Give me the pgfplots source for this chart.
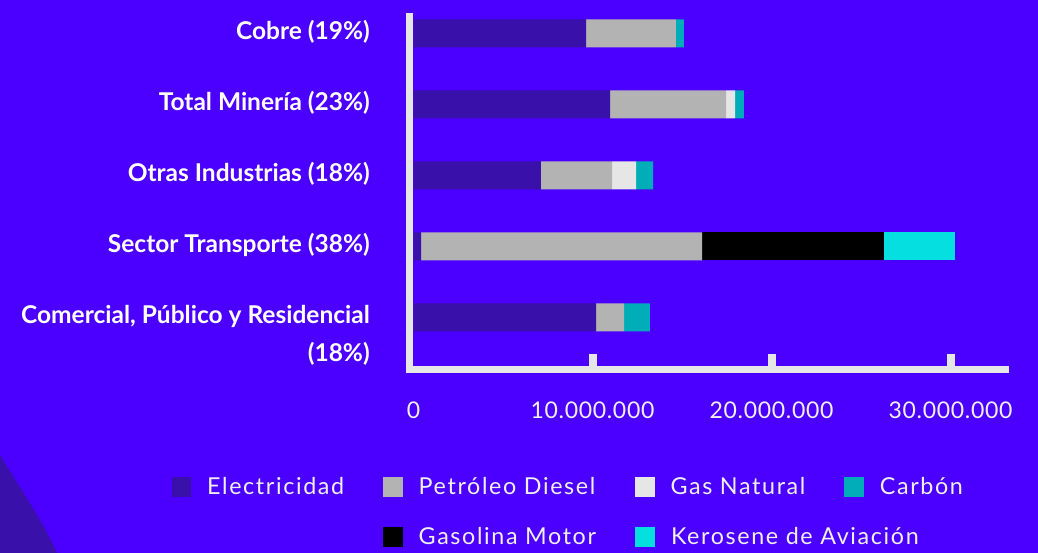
\documentclass[border=0pt]{standalone}
\usepackage{fontspec}
\setmainfont{Lato}
\newfontfamily\spaced[LetterSpace=7]{Lato}
\newfontfamily\tickfont[LetterSpace=3]{Lato}
\usepackage{pgfplots}
\pgfplotsset{compat=1.18}

\definecolor{fondo}{HTML}{4B00FF}
\definecolor{elec}{HTML}{3910A9}
\definecolor{diesel}{HTML}{B3B3B3}
\definecolor{gasnat}{HTML}{E6E6E6}
\definecolor{carbon}{HTML}{00ADB8}
\definecolor{gasolina}{HTML}{000000}
\definecolor{kero}{HTML}{06DFE0}
\definecolor{linea}{HTML}{E6E6E6}
\definecolor{texto}{HTML}{F0F0F0}

\begin{document}
\begin{tikzpicture}
% background and corner decoration
\fill[fondo] (-410pt,-183pt) rectangle (628pt,370pt);
\fill[elec] (-410pt,-85pt) .. controls (-390pt,-118pt) and (-368pt,-150pt) .. (-353pt,-183pt) -- (-410pt,-183pt) -- cycle;
\begin{axis}[
    at={(0pt,0pt)}, anchor=south west,
    scale only axis,
    width=595.5pt, height=353.2pt,
    xbar stacked,
    bar width=28pt,
    xmin=-196000, xmax=33070000,
    ymin=-0.742, ymax=4.232,
    axis x line=bottom, axis y line=left,
    axis line style={draw=linea, line width=7pt, line cap=rect, -},
    every outer x axis line/.append style={-},
    every outer y axis line/.append style={-},
    scaled x ticks=false,
    xtick={10000000,20000000,30000000},
    xticklabels={10.000.000,20.000.000,30.000.000},
    extra x ticks={0},
    extra x tick labels={0},
    extra x tick style={major tick length=0pt},
    tick align=inside,
    major tick length=16pt,
    x tick style={draw=linea, line width=8pt},
    ytick={0,1,2,3,4},
    y tick style={draw=none},
    yticklabels={
      {Comercial, Público y Residencial\llap{\raisebox{-38pt}[0pt][0pt]{(18\%)}}},
      Sector Transporte (38\%),
      Otras Industrias (18\%),
      Total Minería (23\%),
      Cobre (19\%)},
    xticklabel style={font=\tickfont\fontsize{23}{27}\selectfont, text=texto,
      anchor=center, inner sep=0pt, yshift=-40pt},
    yticklabel style={font=\bfseries\fontsize{24.5}{29}\selectfont, text=white,
      anchor=base east, inner sep=0pt, xshift=-40pt, yshift=-6.5pt},
    legend columns=4,
    legend cell align=left,
    legend image code/.code={\fill[#1] (0pt,-9.75pt) rectangle (19.5pt,9.75pt);},
    legend style={
      at={(-0.4002,-0.303)}, anchor=north west,
      draw=none, fill=none, inner sep=0pt, outer sep=0pt,
      row sep=30.5pt,
      font=\spaced\fontsize{23.3}{27}\selectfont, text=texto,
      nodes={inner sep=0pt},
      /tikz/every odd column/.style={column sep=16pt},
      /tikz/every even column/.style={column sep=39pt},
    },
  ]

  % y: 0 Comercial, 1 Transporte, 2 Otras, 3 Mineria, 4 Cobre
  \addplot[fill=elec, draw=none] coordinates {
    (10200000,0) (420000,1) (7120000,2) (10980000,3) (9640000,4)};
  \addlegendentry{Electricidad}

  \addplot[fill=diesel, draw=none] coordinates {
    (1560000,0) (15700000,1) (3970000,2) (6480000,3) (5020000,4)};
  \addlegendentry{Petróleo Diesel}

  \addplot[fill=gasnat, draw=none] coordinates {
    (0,0) (0,1) (1340000,2) (500000,3) (0,4)};
  \addlegendentry{Gas Natural}

  \addplot[fill=carbon, draw=none] coordinates {
    (1450000,0) (0,1) (950000,2) (500000,3) (450000,4)};
  \addlegendentry{Carbón}

  \addlegendimage{empty legend}
  \addlegendentry{\mbox{}}

  \addplot[fill=gasolina, draw=none] coordinates {
    (0,0) (10160000,1) (0,2) (0,3) (0,4)};
  \addlegendentry{Gasolina Motor}

  \addplot[fill=kero, draw=none] coordinates {
    (0,0) (3970000,1) (0,2) (0,3) (0,4)};
  \addlegendentry{\rlap{Kerosene de Aviación}}

\end{axis}
\end{tikzpicture}
\end{document}
